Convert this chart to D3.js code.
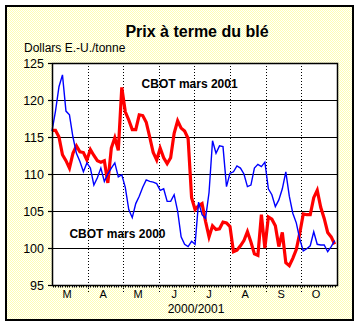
<!DOCTYPE html>
<html>
<head>
<meta charset="utf-8">
<script src="https://cdn.jsdelivr.net/npm/d3@7"></script>
<style>
body { margin: 0; background: #fff; }
text { font-family: "Liberation Sans", Arial, sans-serif; fill: #000; }
</style>
</head>
<body>
<svg id="chart" width="358" height="327"></svg>
<script>
var svg = d3.select('#chart');
const W = +svg.attr('width');
const H = +svg.attr('height');

// texts
const title = "Prix à terme du blé";
const yTitle = "Dollars E.-U./tonne";
const xTitle = "2000/2001";
const monthLabels = ["M", "A", "M", "J", "J", "A", "S", "O"];
const yTicks = [95, 100, 105, 110, 115, 120, 125];

// one reading every 3 days, from March 1st
const dates = d3.timeDay.range(new Date(2000, 2, 1), new Date(2000, 9, 31), 3);

const mars2000 = [
  115.8, 118.5, 121.8, 123.4, 118.5, 118.0, 115.0, 112.8, 111.7, 110.3,
  111.5, 110.8, 108.5, 109.5, 110.8, 109.0, 110.0, 110.8, 111.5, 109.6,
  109.9, 108.2, 105.2, 104.1, 106.0, 107.0, 108.2, 109.2, 109.0, 108.9,
  108.7, 107.8, 108.0, 106.3, 106.3, 107.2, 105.0, 101.5, 100.5, 100.2,
  100.9, 100.5, 106.2, 104.5, 104.0, 107.5, 114.5, 112.8, 113.8, 113.7,
  108.3, 110.1, 110.3, 111.1, 110.8, 110.0, 108.3, 108.5, 110.8, 111.3,
  111.0, 111.6, 108.0, 107.2, 105.6, 106.5, 108.0, 110.3, 107.0, 104.7,
  103.4, 101.2, 99.6, 99.9, 100.3, 102.2, 100.5, 100.4, 100.4, 99.5,
  100.2, 101.0
];

const mars2001 = [
  115.9, 115.9, 115.0, 112.6, 111.8, 110.8, 112.8, 113.8, 113.0, 112.9,
  111.9, 113.3, 112.5, 111.8, 111.6, 111.8, 108.8, 113.5, 114.9, 113.2,
  121.7, 118.4, 117.3, 116.0, 116.0, 118.0, 117.9, 117.0, 115.0, 112.9,
  111.9, 113.5, 112.2, 111.4, 112.2, 115.5, 117.2, 116.2, 115.8, 114.8,
  106.8, 105.2, 105.7, 106.0, 103.6, 101.5, 103.0, 102.5, 102.6, 103.5,
  103.4, 102.9, 99.5, 99.7, 100.3, 101.0, 102.2, 100.8, 99.2, 99.0,
  104.5, 100.0, 104.2, 103.9, 103.0, 100.2, 102.1, 98.0, 97.6, 98.6,
  99.8, 102.0, 104.6, 104.5, 104.5, 106.8, 107.8, 105.5, 104.0, 102.1,
  101.5, 100.5
];

const render = () => {
    const margin = {top: 63, bottom: 42, left: 52, right: 21};
    const x0 = margin.left, x1 = W - margin.right;
    const y0 = margin.top, y1 = H - margin.bottom;
    const crisp = v => Math.round(v) + 0.5;

    const Xscale = d3.scaleTime()
        .domain([new Date(2000, 2, 1), new Date(2000, 10, 1)])
        .range([x0, x1]);
    const Yscale = d3.scaleLinear()
        .domain([95, 125])
        .range([y1, y0]);

    // dithered yellow background
    const pat = svg.append('defs').append('pattern')
        .attr('id', 'dither').attr('width', 2).attr('height', 2)
        .attr('patternUnits', 'userSpaceOnUse');
    pat.append('rect').attr('width', 2).attr('height', 2).attr('fill', '#ffffff');
    pat.append('rect').attr('width', 1).attr('height', 1).attr('fill', '#ffffb4');
    pat.append('rect').attr('x', 1).attr('y', 1).attr('width', 1).attr('height', 1).attr('fill', '#ffffb4');

    svg.append('rect')
        .attr('x', 6).attr('y', 6)
        .attr('width', 347).attr('height', 314)
        .attr('fill', 'url(#dither)')
        .attr('stroke', '#000').attr('stroke-width', 2);

    svg.append('rect')
        .attr('x', x0).attr('y', y0)
        .attr('width', x1 - x0).attr('height', y1 - y0)
        .attr('fill', '#fff');

    // horizontal grid
    svg.append('g').selectAll('line').data(yTicks.slice(1))
        .enter().append('line')
            .attr('x1', x0).attr('x2', x1)
            .attr('y1', d => crisp(Yscale(d))).attr('y2', d => crisp(Yscale(d)))
            .style('stroke', '#000').style('stroke-width', 1);

    // month boundaries, dotted, running a bit under the axis
    const months = d3.timeMonth.range(new Date(2000, 3, 1), new Date(2000, 9, 2));
    svg.append('g').selectAll('line').data(months)
        .enter().append('line')
            .attr('x1', d => crisp(Xscale(d)))
            .attr('x2', d => crisp(Xscale(d)))
            .attr('y1', y0).attr('y2', y1 + 7)
            .style('stroke', '#000').style('stroke-width', 1)
            .style('stroke-dasharray', '1,2');

    // series
    const line = d3.line()
        .x((d, i) => Xscale(dates[i]))
        .y(d => Yscale(d));

    svg.append('path').datum(mars2001)
        .attr('d', line)
        .attr('fill', 'none')
        .style('stroke', '#ff0000').style('stroke-width', 3.2);

    svg.append('path').datum(mars2000)
        .attr('d', line)
        .attr('fill', 'none')
        .style('stroke', '#0000ff').style('stroke-width', 1.4);

    // plot frame
    svg.append('rect')
        .attr('x', crisp(x0)).attr('y', crisp(y0))
        .attr('width', Math.round(x1 - x0)).attr('height', Math.round(y1 - y0))
        .attr('fill', 'none')
        .style('stroke', '#000').style('stroke-width', 1.5);

    // y axis
    const yAxis = svg.append('g')
        .attr('transform', 'translate(' + x0 + ',0)')
        .call(d3.axisLeft(Yscale).tickValues(yTicks).tickSize(4).tickPadding(4));
    yAxis.select('.domain').remove();
    yAxis.selectAll('line').style('stroke', '#000').style('stroke-width', 1.2);
    yAxis.selectAll('text')
        .style('font-size', '12.5px')
        .style('font-family', '"Liberation Sans", Arial, sans-serif');

    // x axis: small ticks every 2 days
    const minor = d3.timeDay.range(new Date(2000, 2, 2), new Date(2000, 10, 1), 2);
    svg.append('g').selectAll('line').data(minor)
        .enter().append('line')
            .attr('x1', d => crisp(Xscale(d)))
            .attr('x2', d => crisp(Xscale(d)))
            .attr('y1', y1).attr('y2', y1 + 2.5)
            .style('stroke', '#000').style('stroke-width', 1);

    // month letters around the 14th
    const mids = d3.timeMonth.range(new Date(2000, 2, 1), new Date(2000, 10, 1))
        .map(d => d3.timeDay.offset(d, 13));
    svg.append('g').selectAll('text').data(mids)
        .enter().append('text')
            .attr('x', d => Xscale(d))
            .attr('y', y1 + 13)
            .attr('text-anchor', 'middle')
            .style('font-size', '11px')
            .text((d, i) => monthLabels[i]);

    svg.append('text').text(xTitle)
        .attr('x', 196).attr('y', 313)
        .attr('text-anchor', 'middle')
        .style('font-size', '12px');

    svg.append('text').text(yTitle)
        .attr('x', 24).attr('y', 52)
        .style('font-size', '12px');

    svg.append('text').text(title)
        .attr('x', 197).attr('y', 37)
        .attr('text-anchor', 'middle')
        .style('font-size', '16px').style('font-weight', 'bold');

    // series labels, placed in data space
    svg.append('text').text("CBOT mars 2001")
        .attr('x', Xscale(new Date(2000, 4, 17)))
        .attr('y', Yscale(121.6))
        .style('font-size', '12px').style('font-weight', 'bold');

    svg.append('text').text("CBOT mars 2000")
        .attr('x', Xscale(new Date(2000, 2, 16)))
        .attr('y', Yscale(101.4))
        .style('font-size', '12px').style('font-weight', 'bold');
}

render();
</script>
</body>
</html>
